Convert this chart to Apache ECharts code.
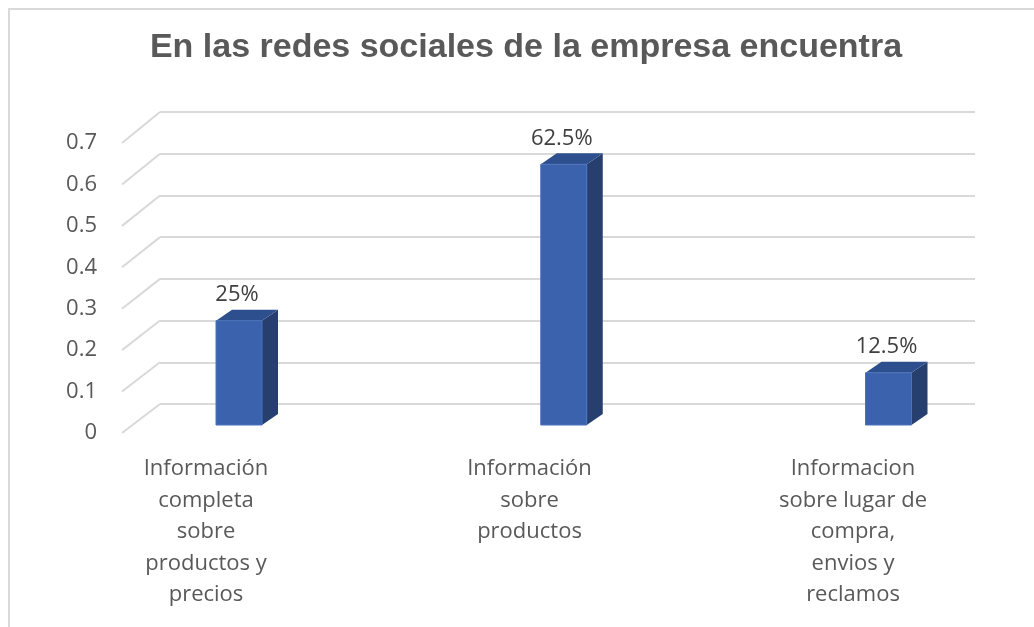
<!DOCTYPE html>
<html>
<head>
<meta charset="utf-8">
<script src="https://cdn.jsdelivr.net/npm/echarts@6/dist/echarts.min.js"></script>
<style>
  html, body { margin: 0; padding: 0; background: #ffffff; }
  #chart { width: 1034px; height: 627px; }
</style>
</head>
<body>
<div id="chart"></div>
<script>
// Chart content
const chartTitle = 'En las redes sociales de la empresa encuentra';
const categories = [
  'Información\ncompleta\nsobre\nproductos y\nprecios',
  'Información\nsobre\nproductos',
  'Informacion\nsobre lugar de\ncompra,\nenvios y\nreclamos'
];
const shares = [0.25, 0.625, 0.125];
const yTicks = [0, 0.1, 0.2, 0.3, 0.4, 0.5, 0.6, 0.7];

const GRID_COLOR = '#d9d9d9';
const TEXT_COLOR = '#595959';
const FACE = '#3a62ad';
const SIDE = '#263f6f';
const TOP = '#2e4f8d';

// depth of the floor (front edge -> back wall) and of each column
const FLOOR_DX = 38;
const BAR_W = 46, BAR_DX = 16, BAR_DY = -11;
// back wall and front edge of the floor: top / bottom pixel rows
const BACK_TOP = 112, BACK_BOTTOM = 404;
const FRONT_TOP = 143, FRONT_BOTTOM = 433;

const chart = echarts.init(document.getElementById('chart'), null, { renderer: 'canvas' });

const pct = v => parseFloat((v * 100).toFixed(1)) + '%';

chart.setOption({
  animation: false,
  backgroundColor: '#ffffff',
  graphic: [
    {
      type: 'rect',
      shape: { x: 9, y: 9, width: 1100, height: 700 },
      style: { fill: 'none', stroke: GRID_COLOR, lineWidth: 2 },
      silent: true
    },
    {
      type: 'text',
      x: 526, y: 48,
      style: {
        text: chartTitle,
        fontFamily: 'Liberation Sans, Arial, sans-serif',
        fontWeight: 'bold',
        fontSize: 34,
        fill: TEXT_COLOR,
        align: 'center',
        verticalAlign: 'middle'
      }
    }
  ],
  grid: [
    // 0: back wall with horizontal gridlines
    { left: 160, right: 59, top: BACK_TOP, height: BACK_BOTTOM - BACK_TOP },
    // 1: front edge of the floor, carries the value labels
    { left: 122, right: 97, top: FRONT_TOP, height: FRONT_BOTTOM - FRONT_TOP },
    // 2: columns
    { left: 239, right: 145.5, top: 133, height: 292 },
    // 3: category labels
    { left: 206, right: 181, top: 133, bottom: 627 - 440 }
  ],
  xAxis: [
    { gridIndex: 0, type: 'value', min: 0, max: 1, show: false },
    { gridIndex: 1, type: 'value', min: 0, max: 1, show: false },
    { gridIndex: 2, type: 'category', data: categories, boundaryGap: false, show: false },
    {
      gridIndex: 3, type: 'category', data: categories, boundaryGap: false,
      axisLine: { show: false }, axisTick: { show: false },
      axisLabel: {
        interval: 0, margin: 13,
        fontFamily: 'Open Sans, sans-serif', fontSize: 22, lineHeight: 31.5,
        color: TEXT_COLOR, align: 'center'
      }
    }
  ],
  yAxis: [
    {
      gridIndex: 0, type: 'value', min: 0, max: 0.7, interval: 0.1,
      axisLine: { show: false }, axisTick: { show: false }, axisLabel: { show: false },
      splitLine: { show: true, lineStyle: { color: GRID_COLOR, width: 2 } }
    },
    {
      gridIndex: 1, type: 'value', min: 0, max: 0.7, interval: 0.1,
      axisLine: { show: false }, axisTick: { show: false }, splitLine: { show: false },
      axisLabel: {
        margin: 25, fontFamily: 'Open Sans, sans-serif', fontSize: 22, color: TEXT_COLOR
      }
    },
    { gridIndex: 2, type: 'value', min: 0, max: 0.7, show: false },
    { gridIndex: 3, type: 'value', min: 0, max: 1, show: false }
  ],
  series: [
    {
      // diagonal floor lines joining each front tick to the back wall
      type: 'custom',
      xAxisIndex: 1, yAxisIndex: 1,
      data: yTicks.map(v => [0, v]),
      silent: true,
      renderItem: (params, api) => {
        const v = api.value(1);
        const p = api.coord([0, v]);
        const backY = BACK_BOTTOM - (v / 0.7) * (BACK_BOTTOM - BACK_TOP);
        return {
          type: 'line',
          shape: { x1: p[0], y1: p[1], x2: p[0] + FLOOR_DX, y2: backY },
          style: { stroke: GRID_COLOR, lineWidth: 2 }
        };
      }
    },
    {
      // 3D columns: front face, right side, top
      type: 'custom',
      xAxisIndex: 2, yAxisIndex: 2,
      data: shares.map((v, i) => [i, v]),
      renderItem: (params, api) => {
        const top = api.coord([api.value(0), api.value(1)]);
        const base = api.coord([api.value(0), 0]);
        const x0 = top[0] - BAR_W / 2, x1 = top[0] + BAR_W / 2;
        const yT = top[1], yB = base[1];
        return {
          type: 'group',
          children: [
            {
              type: 'polygon',
              shape: { points: [[x1, yT], [x1 + BAR_DX, yT + BAR_DY], [x1 + BAR_DX, yB + BAR_DY], [x1, yB]] },
              style: { fill: SIDE }
            },
            {
              type: 'polygon',
              shape: { points: [[x0, yT], [x0 + BAR_DX, yT + BAR_DY], [x1 + BAR_DX, yT + BAR_DY], [x1, yT]] },
              style: { fill: TOP }
            },
            {
              type: 'rect',
              shape: { x: x0, y: yT, width: BAR_W, height: yB - yT },
              style: { fill: FACE, stroke: '#4a72bb', lineWidth: 1 }
            },
            {
              type: 'text',
              x: top[0] - 2, y: yT - 26,
              style: {
                text: pct(api.value(1)),
                fontFamily: 'Open Sans, sans-serif', fontSize: 22,
                fill: '#404040', align: 'center', verticalAlign: 'middle'
              }
            }
          ]
        };
      }
    }
  ]
});
</script>
</body>
</html>
